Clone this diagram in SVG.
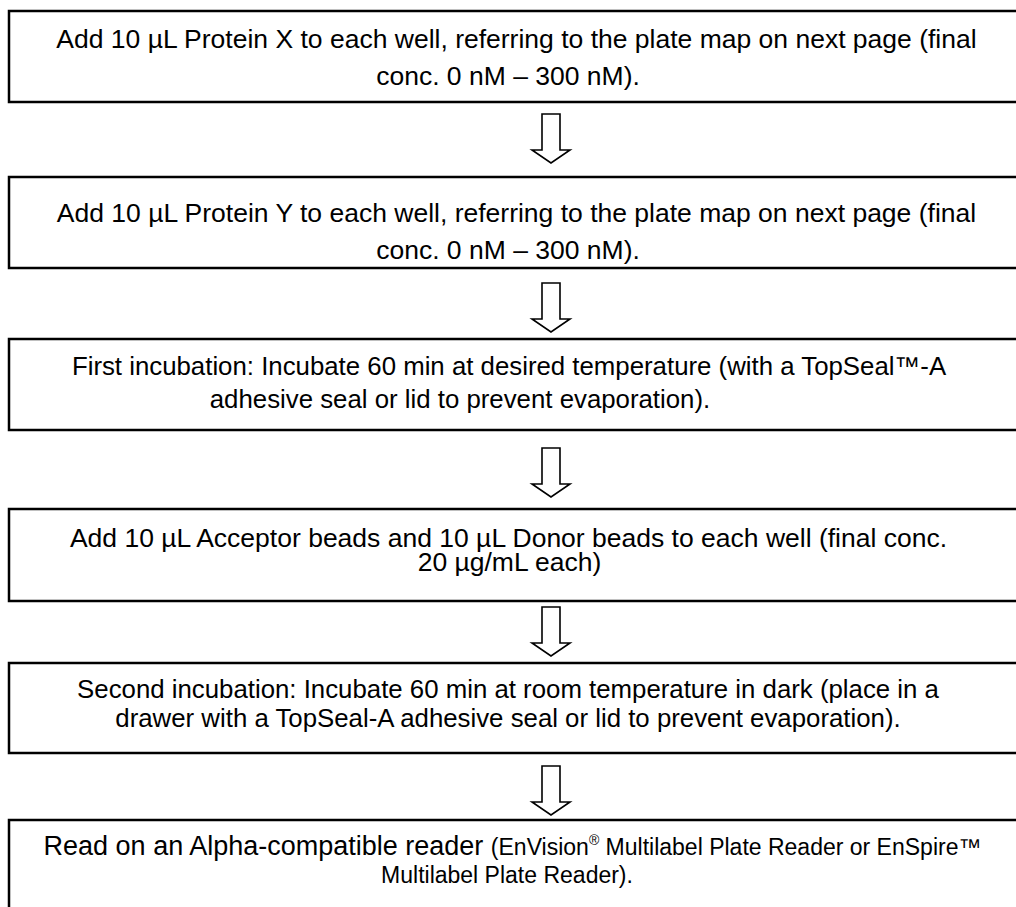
<svg xmlns="http://www.w3.org/2000/svg" width="1016" height="907" viewBox="0 0 1016 907">
  <style>
    .box { fill: #ffffff; stroke: #000000; stroke-width: 2.5; }
    .arrow { fill: #ffffff; stroke: #000000; stroke-width: 1.6; stroke-linejoin: miter; }
    .t { font-family: "Liberation Sans", Arial, sans-serif; font-size: 26.5px; fill: #000000; text-anchor: middle; }
    .m { font-size: 25.8px; }
    .l { font-size: 27px; }
    .s { font-size: 23px; }
    .sup { font-size: 14px; }
  </style>
  <defs>
    <!-- hollow block arrow pointing down, origin at top centre of shaft -->
    <path id="downArrow" class="arrow" d="M -9 0 H 9 V 36 H 19 L 0 49 L -19 36 H -9 Z"/>
  </defs>
  <rect width="1016" height="907" fill="#ffffff"/>

  <g id="connectors">
    <use href="#downArrow" x="551" y="114"/>
    <use href="#downArrow" x="551" y="283"/>
    <use href="#downArrow" x="551" y="448"/>
    <use href="#downArrow" x="551" y="607"/>
    <use href="#downArrow" x="551" y="766"/>
  </g>

  <g id="step1">
    <rect class="box" x="9" y="11" width="1020" height="91"/>
    <text class="t" x="516.5" y="47.5">Add 10 µL Protein X to each well, referring to the plate map on next page (final</text>
    <text class="t" x="508" y="85">conc. 0 nM – 300 nM).</text>
  </g>

  <g id="step2">
    <rect class="box" x="9" y="177" width="1020" height="91"/>
    <text class="t" x="516.5" y="222">Add 10 µL Protein Y to each well, referring to the plate map on next page (final</text>
    <text class="t" x="508" y="259">conc. 0 nM – 300 nM).</text>
  </g>

  <g id="step3">
    <rect class="box" x="9" y="339" width="1020" height="91"/>
    <text class="t m" x="509" y="375">First incubation: Incubate 60 min at desired temperature (with a TopSeal™-A</text>
    <text class="t m" x="460" y="408">adhesive seal or lid to prevent evaporation).</text>
  </g>

  <g id="step4">
    <rect class="box" x="9" y="509" width="1020" height="92"/>
    <text class="t" x="508.5" y="547">Add 10 µL Acceptor beads and 10 µL Donor beads to each well (final conc.</text>
    <text class="t" x="509.5" y="571">20 µg/mL each)</text>
  </g>

  <g id="step5">
    <rect class="box" x="9" y="663" width="1020" height="90"/>
    <text class="t m" x="508" y="698">Second incubation: Incubate 60 min at room temperature in dark (place in a</text>
    <text class="t m" x="508" y="727">drawer with a TopSeal-A adhesive seal or lid to prevent evaporation).</text>
  </g>

  <g id="step6">
    <rect class="box" x="9" y="820" width="1020" height="100"/>
    <text class="t l" x="512.5" y="855">Read on an Alpha-compatible reader <tspan class="s">(EnVision</tspan><tspan class="sup" dy="-10">®</tspan><tspan class="s" dy="10"> Multilabel Plate Reader or EnSpire™</tspan></text>
    <text class="t s" x="507" y="883">Multilabel Plate Reader).</text>
  </g>
</svg>
